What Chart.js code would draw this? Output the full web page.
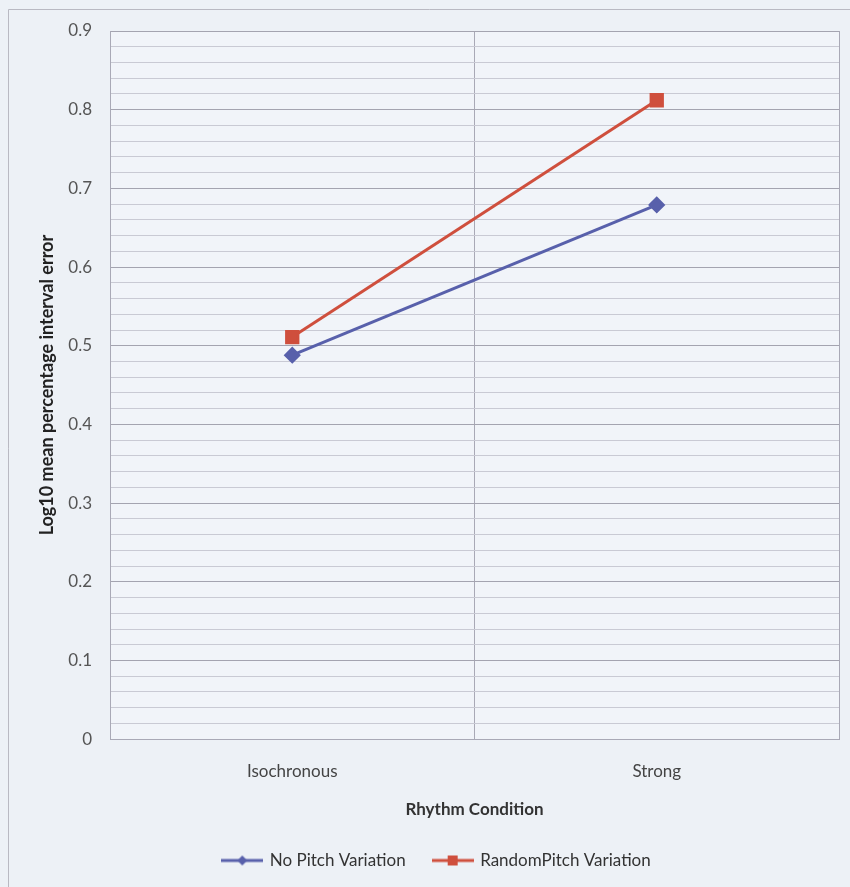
<!DOCTYPE html>
<html>
<head>
<meta charset="utf-8">
<script src="https://cdn.jsdelivr.net/npm/chart.js@4.4.1/dist/chart.umd.min.js"></script>
<style>
  html, body { margin: 0; padding: 0; background: #edf1f6; }
  #wrap { width: 850px; height: 887px; }
</style>
</head>
<body>
<div id="wrap"><canvas id="c" width="850" height="887"></canvas></div>
<script>
const categories = ['Isochronous', 'Strong'];
const noPitchVariation = [0.488, 0.679];
const randomPitchVariation = [0.511, 0.812];
const seriesNames = ['No Pitch Variation', 'RandomPitch Variation'];
const yTickLabels = ['0', '0.1', '0.2', '0.3', '0.4', '0.5', '0.6', '0.7', '0.8', '0.9'];

const BLUE = '#5860ab';
const RED = '#cf4f3d';
const FONT = 'Lato, "Open Sans", sans-serif';

function legendIcon(color, shape) {
  const cv = document.createElement('canvas');
  cv.width = 42; cv.height = 16;
  const g = cv.getContext('2d');
  g.strokeStyle = color; g.lineWidth = 3;
  g.beginPath(); g.moveTo(0, 8); g.lineTo(42, 8); g.stroke();
  g.fillStyle = color;
  if (shape === 'diamond') {
    g.beginPath(); g.moveTo(21, 3); g.lineTo(26, 8); g.lineTo(21, 13); g.lineTo(16, 8); g.closePath(); g.fill();
  } else {
    g.fillRect(16, 3, 10, 10);
  }
  return cv;
}
const icons = [legendIcon(BLUE, 'diamond'), legendIcon(RED, 'square')];

const bgPlugin = {
  id: 'bgPlugin',
  beforeDraw(chart) {
    const ctx = chart.ctx;
    ctx.save();
    ctx.fillStyle = '#edf1f6';
    ctx.fillRect(0, 0, chart.width, chart.height);
    ctx.strokeStyle = '#b9b9c2';
    ctx.lineWidth = 1;
    ctx.beginPath();
    ctx.moveTo(8.5, 900); ctx.lineTo(8.5, 9.5); ctx.lineTo(860, 9.5);
    ctx.stroke();
    const a = chart.chartArea;
    ctx.fillStyle = '#f1f4f9';
    ctx.fillRect(a.left, a.top, a.right - a.left, a.bottom - a.top);
    ctx.restore();
  }
};

new Chart(document.getElementById('c'), {
  type: 'line',
  data: {
    labels: categories,
    datasets: [
      {
        label: seriesNames[0],
        data: noPitchVariation,
        borderColor: BLUE,
        backgroundColor: BLUE,
        borderWidth: 3,
        pointStyle: 'rectRot',
        pointRadius: 6.5,
        pointHoverRadius: 6.5,
        tension: 0
      },
      {
        label: seriesNames[1],
        data: randomPitchVariation,
        borderColor: RED,
        backgroundColor: RED,
        borderWidth: 3,
        pointStyle: 'rect',
        pointRadius: 8,
        pointHoverRadius: 8,
        tension: 0
      }
    ]
  },
  options: {
    responsive: false,
    animation: false,
    devicePixelRatio: 1,
    layout: { padding: { top: 31, right: 10, left: 34, bottom: 8 } },
    plugins: {
      tooltip: { enabled: false },
      legend: {
        position: 'bottom',
        labels: {
          usePointStyle: true,
          pointStyleWidth: 38,
          color: '#333333',
          font: { family: FONT, size: 17 },
          padding: 28,
          boxHeight: 16,
          generateLabels(chart) {
            return chart.data.datasets.map((ds, i) => ({
              text: ds.label,
              pointStyle: icons[i],
              fillStyle: ds.borderColor,
              strokeStyle: ds.borderColor,
              lineWidth: 0,
              hidden: false,
              datasetIndex: i,
              fontColor: '#333333'
            }));
          }
        }
      }
    },
    scales: {
      x: {
        offset: true,
        grid: {
          offset: true,
          color: '#a9a9b6',
          lineWidth: 1,
          drawTicks: false
        },
        border: { color: '#a9a9b6' },
        ticks: {
          color: '#444444',
          font: { family: FONT, size: 17 },
          padding: 22
        },
        title: {
          display: true,
          text: 'Rhythm Condition',
          color: '#333333',
          font: { family: FONT, size: 17, weight: 'bold' },
          padding: { top: -4, bottom: 4 }
        }
      },
      y: {
        min: 0,
        max: 0.9,
        afterFit(scale) { scale.width = 76; },
        afterBuildTicks(scale) {
          const t = [];
          for (let i = 0; i <= 45; i++) t.push({ value: i / 50 });
          scale.ticks = t;
        },
        grid: {
          drawTicks: false,
          color(ctx) {
            const v = ctx.tick ? ctx.tick.value : 0;
            return Math.abs(v * 10 - Math.round(v * 10)) < 1e-6 ? '#a4a4b0' : '#c9cad4';
          },
          lineWidth: 1
        },
        border: { color: '#a9a9b6' },
        ticks: {
          color: '#555555',
          font: { family: FONT, size: 17 },
          padding: 18,
          autoSkip: false,
          callback(value) {
            const k = Math.round(value * 10);
            if (Math.abs(value * 10 - k) < 1e-6) return yTickLabels[k];
            return '';
          }
        },
        title: {
          display: true,
          text: 'Log10 mean percentage interval error',
          color: '#222222',
          font: { family: FONT, size: 18, weight: 'bold' },
          padding: { top: 2, bottom: 0 }
        }
      }
    }
  },
  plugins: [bgPlugin]
});
</script>
</body>
</html>
